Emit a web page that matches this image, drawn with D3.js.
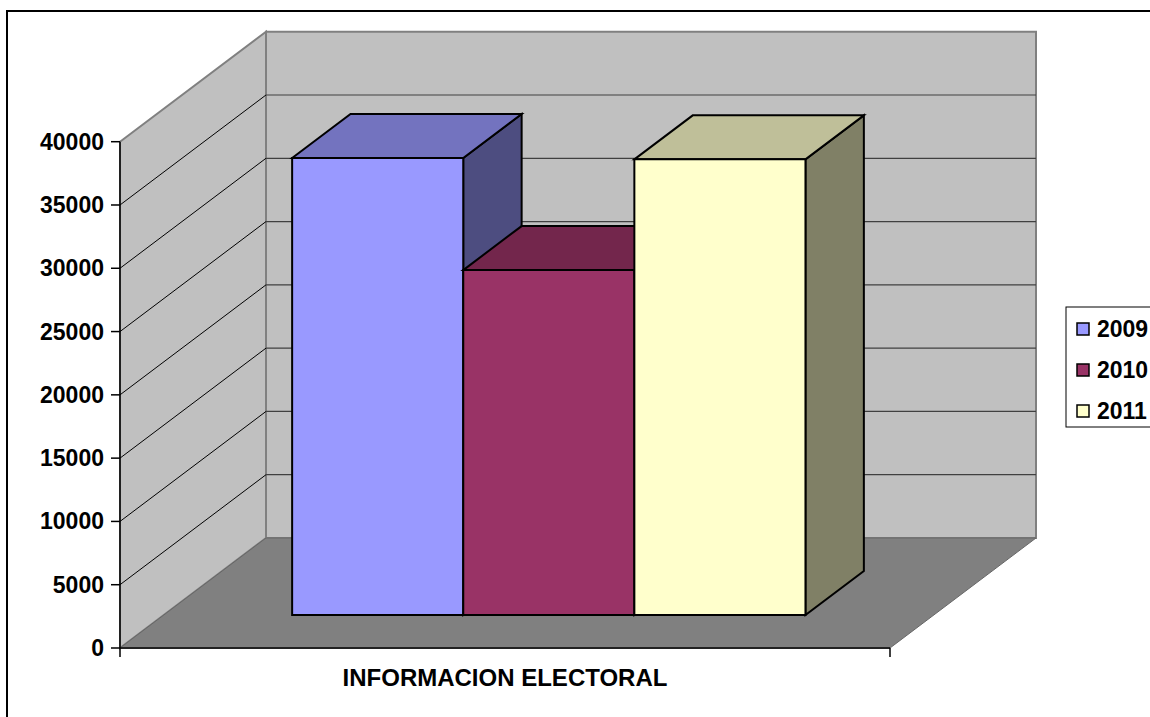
<!DOCTYPE html>
<html>
<head>
<meta charset="utf-8">
<script src="https://d3js.org/d3.v7.min.js"></script>
<style>
  body { margin: 0; background: #fff; }
  text { font-family: "Liberation Sans", Arial, sans-serif; font-weight: bold; }
</style>
</head>
<body>
<div id="d3"></div>
<script>
// data
var years = ["2009", "2010", "2011"];
var values = [36100, 27250, 36000];
var yTicks = [0, 5000, 10000, 15000, 20000, 25000, 30000, 35000, 40000];
var categoryLabel = "INFORMACION ELECTORAL";

var fronts = ["#9999FF", "#993366", "#FFFFCC"];
var tops = ["#7373BF", "#73264C", "#BFBF99"];
var sides = ["#4D4D80", "#4D1933", "#808066"];

var width = 1150, height = 717;

// front plane of the 3d box
var x0 = 120, x1 = 890, yBase = 648, yTop = 141.7;
// depth offset of the back wall
var depthX = 146, depthY = -110;

var svg = d3.select("#d3")
  .append("svg")
  .attr("width", width)
  .attr("height", height);

// outer border
svg.append("rect")
  .attr("x", 7).attr("y", 11)
  .attr("width", 1300).attr("height", 900)
  .attr("fill", "#fff")
  .attr("stroke", "#000")
  .attr("stroke-width", 2);

var x = d3.scaleBand()
  .domain(years)
  .range([x0, x1])
  .paddingInner(0)
  .paddingOuter(0.75);

var y = d3.scaleLinear()
  .domain([0, 40000])
  .range([yBase, yTop]);

// depth offsets (t = 0 front, 1 back)
function ox(t) { return t * depthX; }
function oy(t) { return t * depthY; }

function pts(arr) { return arr.map(p => p.join(",")).join(" "); }

var yMax = y(40000), y0 = y(0);

// left wall
svg.append("polygon")
  .attr("points", pts([[x0, yMax], [x0 + ox(1), yMax + oy(1)], [x0 + ox(1), y0 + oy(1)], [x0, y0]]))
  .attr("fill", "#C0C0C0")
  .attr("stroke", "#808080")
  .attr("stroke-width", 2);

// back wall
svg.append("polygon")
  .attr("points", pts([[x0 + ox(1), yMax + oy(1)], [x1 + ox(1), yMax + oy(1)], [x1 + ox(1), y0 + oy(1)], [x0 + ox(1), y0 + oy(1)]]))
  .attr("fill", "#C0C0C0")
  .attr("stroke", "#808080")
  .attr("stroke-width", 2);

// gridlines on walls
var inner = yTicks.filter(d => d > 0 && d < 40000);
svg.selectAll(".gl-left")
  .data(inner)
  .enter().append("line")
  .attr("x1", x0).attr("y1", d => y(d))
  .attr("x2", x0 + ox(1)).attr("y2", d => y(d) + oy(1))
  .attr("stroke", "#000")
  .attr("stroke-width", 1);

svg.selectAll(".gl-back")
  .data(inner)
  .enter().append("line")
  .attr("x1", x0 + ox(1)).attr("y1", d => y(d) + oy(1))
  .attr("x2", x1 + ox(1)).attr("y2", d => y(d) + oy(1))
  .attr("stroke", "#404040")
  .attr("stroke-width", 1.2);

// floor
svg.append("polygon")
  .attr("points", pts([[x0, y0], [x1, y0], [x1 + ox(1), y0 + oy(1)], [x0 + ox(1), y0 + oy(1)]]))
  .attr("fill", "#808080")
  .attr("stroke", "#666")
  .attr("stroke-width", 1);

svg.append("line")
  .attr("x1", x0).attr("y1", y0)
  .attr("x2", x1).attr("y2", y0)
  .attr("stroke", "#222")
  .attr("stroke-width", 2);

// bars
var tFront = 0.3, tBack = 0.7;
years.forEach(function (yr, i) {
  var l = x(yr), r = x(yr) + x.bandwidth();
  var b = y(0), t = y(values[i]);
  var fl = l + ox(tFront), fr = r + ox(tFront), bl = l + ox(tBack), br = r + ox(tBack);
  var fb = b + oy(tFront), ft = t + oy(tFront), bb = b + oy(tBack), bt = t + oy(tBack);
  var g = svg.append("g")
    .attr("stroke", "#000")
    .attr("stroke-width", 2)
    .attr("stroke-linejoin", "miter");
  g.append("polygon")
    .attr("points", pts([[fr, ft], [br, bt], [br, bb], [fr, fb]]))
    .attr("fill", sides[i]);
  g.append("polygon")
    .attr("points", pts([[fl, ft], [bl, bt], [br, bt], [fr, ft]]))
    .attr("fill", tops[i]);
  g.append("polygon")
    .attr("points", pts([[fl, ft], [fr, ft], [fr, fb], [fl, fb]]))
    .attr("fill", fronts[i]);
});

// y axis
svg.append("line")
  .attr("x1", x0).attr("y1", yMax)
  .attr("x2", x0).attr("y2", y0 + 9)
  .attr("stroke", "#000")
  .attr("stroke-width", 1.5);

svg.selectAll(".ytick")
  .data(yTicks)
  .enter().append("line")
  .attr("x1", x0 - 9).attr("y1", d => y(d))
  .attr("x2", x0).attr("y2", d => y(d))
  .attr("stroke", "#000")
  .attr("stroke-width", 1.5);

svg.selectAll(".ylabel")
  .data(yTicks)
  .enter().append("text")
  .attr("x", 104)
  .attr("y", d => y(d) + 8)
  .attr("text-anchor", "end")
  .style("font-size", "23px")
  .text(d => d);

// x axis end tick
svg.append("line")
  .attr("x1", x1).attr("y1", y0)
  .attr("x2", x1).attr("y2", y0 + 9)
  .attr("stroke", "#000")
  .attr("stroke-width", 1.5);

svg.append("text")
  .attr("x", 505)
  .attr("y", 686)
  .attr("text-anchor", "middle")
  .style("font-size", "24px")
  .text(categoryLabel);

// legend
var legend = svg.append("g");
legend.append("rect")
  .attr("x", 1066).attr("y", 307)
  .attr("width", 120).attr("height", 120)
  .attr("fill", "#fff")
  .attr("stroke", "#000")
  .attr("stroke-width", 1);

var rows = legend.selectAll(".row")
  .data(years)
  .enter().append("g")
  .attr("transform", (d, i) => "translate(1077," + (323 + i * 41) + ")");

rows.append("rect")
  .attr("width", 12).attr("height", 12)
  .attr("fill", (d, i) => fronts[i])
  .attr("stroke", "#000")
  .attr("stroke-width", 1.5);

rows.append("text")
  .attr("x", 20)
  .attr("y", 14)
  .style("font-size", "23px")
  .text(d => d);
</script>
</body>
</html>
